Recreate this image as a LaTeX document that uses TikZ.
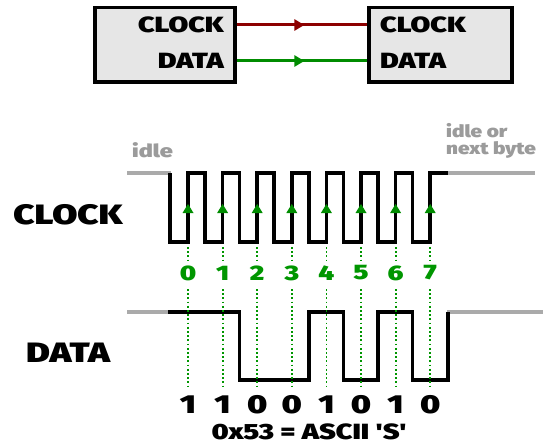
\documentclass[tikz,border=0pt]{standalone}
\usepackage{fontspec}
\usepackage{graphicx}
\setmainfont{Liberation Sans}
\newfontfamily\hv{Fira Sans Black}
\newcommand\hvy[2][1.3]{\scalebox{#1}[1]{#2}}
\usetikzlibrary{arrows.meta,decorations.markings}
\definecolor{wred}{RGB}{140,0,0}
\definecolor{wgreen}{RGB}{0,140,0}
\definecolor{dgreen}{RGB}{0,150,0}
\definecolor{idlegray}{RGB}{170,170,170}
\definecolor{txtgray}{RGB}{155,155,155}
\definecolor{boxfill}{RGB}{230,230,230}
\begin{document}
\begin{tikzpicture}[x=1pt,y=-1pt,
  devbox/.style={draw=black,line width=3.5pt,fill=boxfill,inner sep=0pt},
  boxtxt/.style={font=\hv\fontsize{22}{22}\selectfont,inner sep=0pt},
  biglbl/.style={font=\hv\fontsize{28}{28}\selectfont,inner sep=0pt},
  gtxt/.style={font=\hv\fontsize{18}{17}\selectfont,text=txtgray,inner sep=0pt},
  bitnum/.style={font=\hv\fontsize{21}{21}\selectfont,text=dgreen,inner sep=0pt},
  bitval/.style={font=\hv\fontsize{26}{26}\selectfont,inner sep=0pt},
  wire/.style={line width=3pt,postaction={decorate},decoration={markings,
     mark=at position 0.52 with {\arrow{Triangle[length=10pt,width=11pt]}}}},
  idle/.style={draw=idlegray,line width=4pt},
  wave/.style={draw=black,line width=3.5pt,line join=miter},
  dots/.style={draw=dgreen,line width=1.8pt,dash pattern=on 1.8pt off 2.4pt},
  tick/.style={fill=wgreen,draw=none}
]
\useasboundingbox (0,0) rectangle (546,444);
% top devices
\node[devbox,minimum width=140pt,minimum height=74pt,anchor=north west] (lbox) at (93,6) {};
\node[devbox,minimum width=143pt,minimum height=74pt,anchor=north west] (rbox) at (367,6) {};
\node[boxtxt,anchor=east] (lclk) at (224,25) {\hvy{CLOCK}};
\node[boxtxt,anchor=east] (ldat) at (224,61) {\hvy{DATA}};
\node[boxtxt,anchor=west] (rclk) at (380,25) {\hvy{CLOCK}};
\node[boxtxt,anchor=west] (rdat) at (380,61) {\hvy{DATA}};
\draw[wire,draw=wred,color=wred] (lbox.east |- 0,25) -- (rbox.west |- 0,25);
\draw[wire,draw=wgreen,color=wgreen] (lbox.east |- 0,61) -- (rbox.west |- 0,61);
% labels
\node[biglbl] (clklbl) at (68,215) {\hvy{CLOCK}};
\node[biglbl] (datlbl) at (68,353) {\hvy{DATA}};
\node[gtxt,anchor=west] (idl) at (132,150) {\hvy{idle}};
\node[gtxt,anchor=west,align=left,font=\hv\fontsize{17}{16.5}\selectfont] (idr) at (446,141) {\hvy[1.22]{idle or}\\\hvy[1.22]{next byte}};
% clock waveform
\draw[idle] (127,173) -- (171,173);
\draw[idle] (447,173) -- (535,173);
\draw[wave] (170,173) -- (170,242)
  -- (188,242) -- (188,173) -- (205,173) -- (205,242)
  -- (222.6,242) -- (222.6,173) -- (239.6,173) -- (239.6,242)
  -- (257.2,242) -- (257.2,173) -- (274.2,173) -- (274.2,242)
  -- (291.8,242) -- (291.8,173) -- (308.8,173) -- (308.8,242)
  -- (326.4,242) -- (326.4,173) -- (343.4,173) -- (343.4,242)
  -- (361,242) -- (361,173) -- (378,173) -- (378,242)
  -- (395.6,242) -- (395.6,173) -- (412.6,173) -- (412.6,242)
  -- (430.2,242) -- (430.2,173) -- (448,173);
% data waveform
\draw[idle] (127,312) -- (169,312);
\draw[idle] (447,312) -- (543,312);
\draw[wave] (168,312) -- (239.6,312) -- (239.6,380) -- (308.8,380) -- (308.8,312)
  -- (343.4,312) -- (343.4,380) -- (378,380) -- (378,312) -- (412.6,312)
  -- (412.6,380) -- (448,380) -- (448,312);
% sample points
\foreach \x/\n/\b in {188/0/1,222.6/1/1,257.2/2/0,291.8/3/0,326.4/4/1,361/5/0,395.6/6/1,430.2/7/0}{
  \fill[tick] (\x-5.5,213) -- (\x+5.5,213) -- (\x,204) -- cycle;
  \draw[dots] (\x,247) -- (\x,261);
  \node[bitnum] (n\n) at (\x,273) {\hvy{\n}};
  \draw[dots] (\x,289) -- (\x,388);
  \node[bitval] (b\n) at (\x,405) {\hvy{\b}};
}
\node[font=\hv\fontsize{22}{22}\selectfont,inner sep=0pt] (hex) at (309,432) {\hvy{0x53 = ASCII 'S'}};
\end{tikzpicture}
\end{document}
